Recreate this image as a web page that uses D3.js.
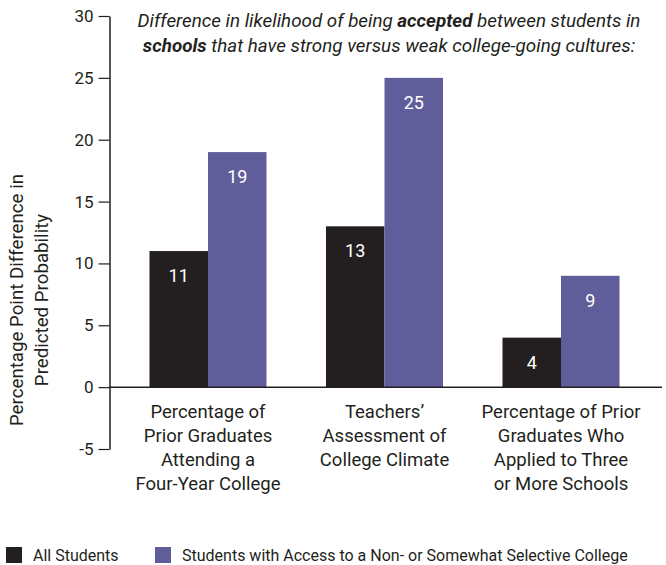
<!DOCTYPE html>
<html>
<head>
<meta charset="utf-8">
<script src="https://cdn.jsdelivr.net/npm/d3@7/dist/d3.min.js"></script>
<style>
  html, body { margin: 0; padding: 0; background: #fff; }
  svg text { font-family: "Roboto", "Liberation Sans", sans-serif; fill: #231f20; }
</style>
</head>
<body>
<svg id="chart" width="666" height="565"></svg>
<script>
// Chart data
const categories = [
  ["Percentage of", "Prior Graduates", "Attending a", "Four-Year College"],
  ["Teachers\u2019", "Assessment of", "College Climate"],
  ["Percentage of Prior", "Graduates Who", "Applied to Three", "or More Schools"]
];
const seriesNames = ["All Students", "Students with Access to a Non- or Somewhat Selective College"];
const allStudents = [11, 13, 4];
const selectiveAccess = [19, 25, 9];
const yTicks = [-5, 0, 5, 10, 15, 20, 25, 30];
const colors = ["#231f20", "#605e9a"];

const svg = d3.select("#chart");

const y = d3.scaleLinear().domain([-5, 30]).range([449, 16]);
const x = d3.scaleBand().domain(d3.range(categories.length))
  .range([119.75, 649.25]).paddingInner(0.337).paddingOuter(0.1685);
const xInner = d3.scaleBand().domain(d3.range(seriesNames.length))
  .range([0, x.bandwidth()]).padding(0);

// Y axis
const yAxis = d3.axisLeft(y).tickValues(yTicks).tickFormat(d => String(d))
  .tickSize(11).tickPadding(5).tickSizeOuter(0);
const gy = svg.append("g").attr("transform", "translate(109.5,0)").call(yAxis);
gy.select(".domain").attr("stroke", "#231f20").attr("stroke-width", 1.5);
gy.selectAll(".tick line").attr("stroke", "#231f20").attr("stroke-width", 1.2);
gy.selectAll(".tick text").attr("font-size", 17).attr("fill", "#231f20")
  .style("font-family", "Roboto, sans-serif");

// Bars
const series = [allStudents, selectiveAccess];
const groups = svg.append("g").selectAll("g")
  .data(categories.map((c, i) => ({ i, values: series.map(s => s[i]) })))
  .join("g")
  .attr("transform", d => `translate(${x(d.i)},0)`);

groups.selectAll("rect")
  .data(d => d.values.map((v, k) => ({ v, k })))
  .join("rect")
  .attr("x", d => xInner(d.k))
  .attr("width", xInner.bandwidth())
  .attr("y", d => y(d.v))
  .attr("height", d => y(0) - y(d.v))
  .attr("fill", d => colors[d.k]);

groups.selectAll("text.val")
  .data(d => d.values.map((v, k) => ({ v, k })))
  .join("text")
  .attr("class", "val")
  .attr("x", d => xInner(d.k) + xInner.bandwidth() / 2)
  .attr("y", d => y(d.v) + 31)
  .attr("text-anchor", "middle")
  .attr("font-size", 18)
  .style("fill", "#fff")
  .text(d => d.v);

// Zero baseline
svg.append("line")
  .attr("x1", 109).attr("x2", 662)
  .attr("y1", y(0)).attr("y2", y(0))
  .attr("stroke", "#231f20").attr("stroke-width", 1.5);

// Category labels
svg.append("g").selectAll("text")
  .data(categories)
  .join("text")
  .attr("text-anchor", "middle")
  .attr("font-size", 18.5)
  .attr("transform", (d, i) => `translate(${x(i) + x.bandwidth() / 2},418)`)
  .selectAll("tspan")
  .data(d => d)
  .join("tspan")
  .attr("x", 0)
  .attr("dy", (d, j) => j === 0 ? 0 : 24)
  .text(d => d);

// Y axis title
const yTitle = svg.append("text")
  .attr("transform", "translate(0,300) rotate(-90)")
  .attr("text-anchor", "middle")
  .attr("font-size", 18.7);
yTitle.append("tspan").attr("x", 0).attr("y", 23).text("Percentage Point Difference in");
yTitle.append("tspan").attr("x", 0).attr("y", 48).text("Predicted Probability");

// Chart heading
const heading = svg.append("text")
  .attr("text-anchor", "middle")
  .attr("font-size", 18.8)
  .style("font-style", "italic");
const h1 = heading.append("tspan").attr("x", 389).attr("y", 27);
h1.append("tspan").text("Difference in likelihood of being ");
h1.append("tspan").style("font-weight", "bold").text("accepted");
h1.append("tspan").text(" between students in");
const h2 = heading.append("tspan").attr("x", 389).attr("y", 52);
h2.append("tspan").style("font-weight", "bold").text("schools");
h2.append("tspan").text(" that have strong versus weak college-going cultures:");

// Legend
const legendX = [6, 155];
const legend = svg.append("g").selectAll("g")
  .data(seriesNames)
  .join("g")
  .attr("transform", (d, i) => `translate(${legendX[i]},547)`);
legend.append("rect").attr("width", 16).attr("height", 16).attr("fill", (d, i) => colors[i]);
legend.append("text").attr("x", 27).attr("y", 14).attr("font-size", 16).text(d => d);
</script>
</body>
</html>
